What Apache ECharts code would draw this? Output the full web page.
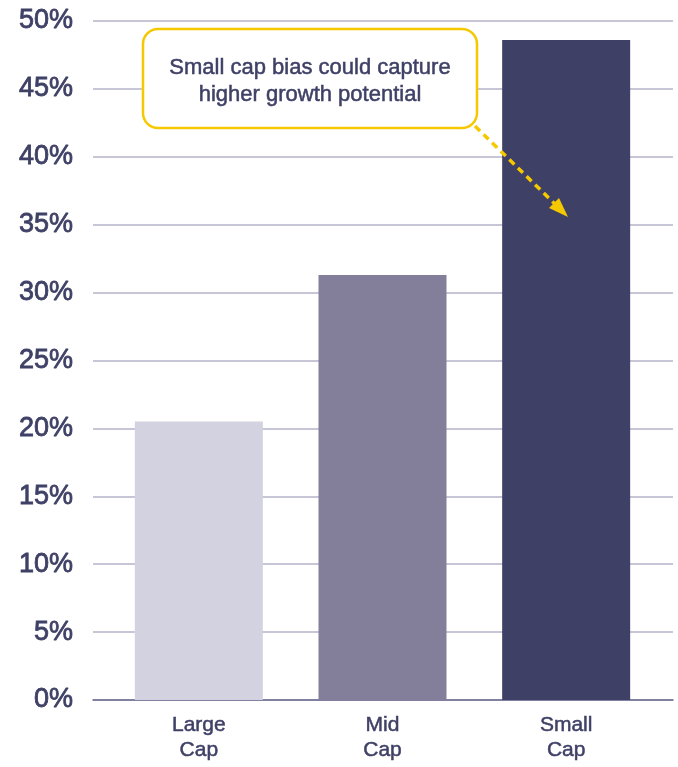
<!DOCTYPE html>
<html lang="en">
<head>
    <meta charset="UTF-8">
    <title>Cap bias</title>
    <script src="https://cdn.jsdelivr.net/npm/echarts@6/dist/echarts.min.js"></script>
    <style>
        html, body { margin: 0; padding: 0; background: #fff; }
        #chart { width: 678px; height: 767px; }
    </style>
</head>
<body>
    <div id="chart"></div>
    <script>
        // data
        var categories = ['Large\nCap', 'Mid\nCap', 'Small\nCap'];
        var values = [20.5, 31.3, 48.6];
        var barColors = ['#d3d2e0', '#837f9b', '#3f4066'];
        var yTicks = [0, 5, 10, 15, 20, 25, 30, 35, 40, 45, 50];
        var calloutLines = ['Small cap bias could capture', 'higher growth potential'];

        var textColor = '#3f4066';
        var yellow = '#f5c800';
        var fontFam = '"Liberation Sans", Arial, sans-serif';

        var myChart = echarts.init(document.getElementById('chart'));

        var option = {
            backgroundColor: '#fff',
            animation: false,
            grid: [
                // grid lines + y labels
                { left: 93, right: 5, top: 21, bottom: 67 },
                // bars
                { left: 107, right: 20, top: 21, bottom: 67 }
            ],
            xAxis: [
                {
                    gridIndex: 0,
                    type: 'category',
                    data: ['x'],
                    axisTick: { show: false },
                    axisLabel: { show: false },
                    axisLine: { show: true, lineStyle: { color: '#6b6990', width: 1.5 } }
                },
                {
                    gridIndex: 1,
                    type: 'category',
                    data: categories,
                    axisTick: { show: false },
                    axisLine: { show: false },
                    axisLabel: {
                        color: textColor,
                        fontFamily: fontFam,
                        fontSize: 21,
                        lineHeight: 25,
                        margin: 13,
                        textBorderColor: textColor,
                        textBorderWidth: 0.5
                    }
                }
            ],
            yAxis: [
                {
                    gridIndex: 0,
                    type: 'value',
                    min: yTicks[0],
                    max: yTicks[yTicks.length - 1],
                    interval: 5,
                    axisLine: { show: false },
                    axisTick: { show: false },
                    splitLine: { lineStyle: { color: '#b5b3c9', width: 1.5 } },
                    axisLabel: {
                        formatter: '{value}%',
                        color: textColor,
                        fontFamily: fontFam,
                        fontSize: 27,
                        margin: 20,
                        textBorderColor: textColor,
                        textBorderWidth: 0.8
                    }
                },
                {
                    gridIndex: 1,
                    type: 'value',
                    min: yTicks[0],
                    max: yTicks[yTicks.length - 1],
                    show: false
                }
            ],
            series: [
                {
                    type: 'bar',
                    xAxisIndex: 1,
                    yAxisIndex: 1,
                    barWidth: 128,
                    data: values.map(function (v, i) {
                        return { value: v, itemStyle: { color: barColors[i] } };
                    })
                }
            ],
            graphic: [
                {
                    type: 'rect',
                    shape: { x: 143, y: 29, width: 334, height: 99, r: 15 },
                    style: { fill: '#fff', stroke: yellow, lineWidth: 2.5 },
                    z: 100
                },
                {
                    type: 'text',
                    x: 310,
                    y: 81,
                    style: {
                        text: calloutLines.join('\n'),
                        fill: textColor,
                        font: '22px ' + fontFam,
                        lineHeight: 27,
                        align: 'center',
                        verticalAlign: 'middle',
                        stroke: textColor,
                        lineWidth: 0.5
                    },
                    z: 101
                },
                {
                    type: 'line',
                    shape: { x1: 475, y1: 126, x2: 556, y2: 205 },
                    style: { stroke: yellow, lineWidth: 3.5, lineDash: [7, 5] },
                    z: 100
                },
                {
                    type: 'polygon',
                    shape: { points: [[568, 217], [549, 208], [559, 198]] },
                    style: { fill: yellow },
                    z: 100
                }
            ]
        };

        myChart.setOption(option);
    </script>
</body>
</html>
